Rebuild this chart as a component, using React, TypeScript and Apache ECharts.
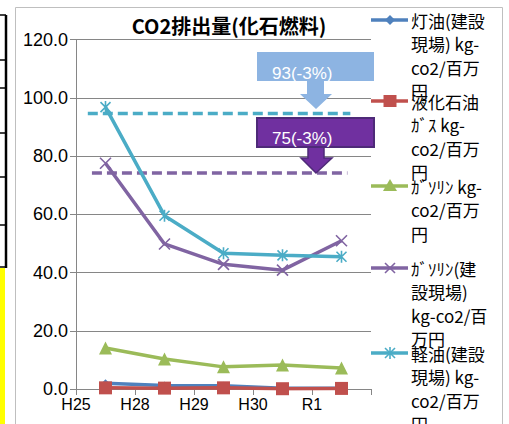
import React, { useEffect, useRef } from "react";
import * as echarts from "echarts";

// ---- data ----
const xLabels = ["H25", "H28", "H29", "H30", "R1"];
const kerosene = [2.0, 1.2, 1.1, 0.3, 0.3]; // 灯油(建設現場)
const lpg = [0.4, 0.3, 0.4, 0.1, 0.2]; // 液化石油ガス
const gasoline = [14.1, 10.3, 7.6, 8.2, 7.2]; // ガソリン
const gasolineSite = [77.5, 49.8, 42.8, 40.8, 50.9]; // ガソリン(建設現場)
const diesel = [96.8, 59.5, 46.6, 45.9, 45.4]; // 軽油(建設現場)
const dieselTarget = 94.6;
const gasolineSiteTarget = 74.2;
const dieselTargetSpan = [0.2, 4.65];
const gasolineSiteTargetSpan = [0.27, 4.6];
const yMin = 0;
const yMax = 120;
const yStep = 20;

const names = [
  "灯油(建設現場) kg-co2/百万円",
  "液化石油ｶﾞｽ kg-co2/百万円",
  "ｶﾞｿﾘﾝ kg-co2/百万円",
  "ｶﾞｿﾘﾝ(建設現場) kg-co2/百万円",
  "軽油(建設現場) kg-co2/百万円",
];
const legendLines = [
  ["灯油(建設", "現場) kg-", "co2/百万", "円"],
  ["液化石油", "ｶﾞｽ kg-", "co2/百万", "円"],
  ["ｶﾞｿﾘﾝ kg-", "co2/百万", "円"],
  ["ｶﾞｿﾘﾝ(建", "設現場)", "kg-co2/百", "万円"],
  ["軽油(建設", "現場) kg-", "co2/百万", "円"],
];
const callout1 = "93(-3%)";
const callout2 = "75(-3%)";
const title = "CO2排出量(化石燃料)";

const COLORS = ["#4F81BD", "#C0504D", "#9BBB59", "#8064A2", "#4BACC6"];
const X_PATH = "path://M0,0L10,10M10,0L0,10";
const STAR_PATH = "path://M0,0L10,10M10,0L0,10M5,-1L5,11";

export default function App() {
  const ref = useRef<HTMLDivElement>(null);
  useEffect(() => {
    if (!ref.current) return;
    const chart = echarts.init(ref.current, undefined, { renderer: "svg" });
    const all = [kerosene, lpg, gasoline, gasolineSite, diesel];
    const symbols = ["diamond", "rect", "triangle", X_PATH, STAR_PATH];
    const sizes = [8, 13, 13, 11, 12];
    const series: any[] = all.map((vals, k) => ({
      name: names[k],
      type: "line",
      data: vals.map((v, i) => [i + 0.5, v]),
      symbol: symbols[k],
      symbolSize: sizes[k],
      symbolKeepAspect: true,
      lineStyle: { color: COLORS[k], width: 3.5 },
      itemStyle: {
        color: k >= 3 ? "none" : COLORS[k],
        borderColor: COLORS[k],
        borderWidth: k >= 3 ? 1.6 : 0,
      },
      z: 2 + k,
    }));
    series.push({
      name: "target-diesel",
      type: "line",
      data: dieselTargetSpan.map((x) => [x, dieselTarget]),
      symbol: "none",
      lineStyle: { color: "#4BACC6", width: 3.5, type: [10, 5] },
      z: 1,
    });
    series.push({
      name: "target-gasoline",
      type: "line",
      data: gasolineSiteTargetSpan.map((x) => [x, gasolineSiteTarget]),
      symbol: "none",
      lineStyle: { color: "#8064A2", width: 3.5, type: [10, 5] },
      z: 1,
    });

    const legendYs = [20, 101, 186, 268, 353];
    const lh = 23.5;
    const legendEls: any[] = [];
    legendYs.forEach((y, k) => {
      const c = COLORS[k];
      legendEls.push({
        type: "line",
        shape: { x1: 371, y1: y, x2: 408, y2: y },
        style: { stroke: c, lineWidth: 3.5 },
        z: 20,
      });
      const mx = 390;
      if (k === 0)
        legendEls.push({
          type: "polygon",
          shape: { points: [[mx, y - 5], [mx + 5, y], [mx, y + 5], [mx - 5, y]] },
          style: { fill: c },
          z: 21,
        });
      if (k === 1)
        legendEls.push({
          type: "rect",
          shape: { x: mx - 6.5, y: y - 6, width: 13, height: 12 },
          style: { fill: c },
          z: 21,
        });
      if (k === 2)
        legendEls.push({
          type: "polygon",
          shape: { points: [[mx, y - 7], [mx + 7, y + 5], [mx - 7, y + 5]] },
          style: { fill: c },
          z: 21,
        });
      if (k === 3 || k === 4) {
        legendEls.push({
          type: "line",
          shape: { x1: mx - 5, y1: y - 5, x2: mx + 5, y2: y + 5 },
          style: { stroke: c, lineWidth: 1.6 },
          z: 21,
        });
        legendEls.push({
          type: "line",
          shape: { x1: mx - 5, y1: y + 5, x2: mx + 5, y2: y - 5 },
          style: { stroke: c, lineWidth: 1.6 },
          z: 21,
        });
        if (k === 4)
          legendEls.push({
            type: "line",
            shape: { x1: mx, y1: y - 6, x2: mx, y2: y + 6 },
            style: { stroke: c, lineWidth: 1.6 },
            z: 21,
          });
      }
      legendEls.push({
        type: "text",
        x: 411,
        y: y - lh / 2,
        style: {
          text: legendLines[k].join("\n"),
          font: '17px "Noto Sans CJK JP"',
          fill: "#000",
          lineHeight: lh,
          verticalAlign: "top",
          align: "left",
        },
        z: 20,
      });
    });

    const leftLines = [15, 60, 88, 133, 177, 225, 267].map((y) => ({
      type: "line",
      shape: { x1: 0, y1: y, x2: 6, y2: y },
      style: { stroke: "#000", lineWidth: 1.5 },
      z: 30,
    }));

    chart.setOption({
      animation: false,
      backgroundColor: "#fff",
      grid: { left: 76, top: 39.5, right: 138, bottom: 35, containLabel: false },
      xAxis: {
        type: "value",
        min: 0,
        max: 5,
        interval: 1,
        axisLine: { show: true, lineStyle: { color: "#868686", width: 1 } },
        axisTick: { show: true, length: 6, lineStyle: { color: "#868686" } },
        splitLine: { show: false },
        axisLabel: {
          formatter: (v: number) => xLabels[v] ?? "",
          color: "#000",
          fontSize: 16,
          fontFamily: '"Liberation Sans", Arial, sans-serif',
          margin: 7,
          showMaxLabel: true,
        },
      },
      yAxis: {
        type: "value",
        min: yMin,
        max: yMax,
        interval: yStep,
        axisLine: { show: true, lineStyle: { color: "#868686", width: 1 } },
        axisTick: { show: true, length: 6, lineStyle: { color: "#868686" } },
        splitLine: { show: true, lineStyle: { color: "#868686", width: 1 } },
        axisLabel: {
          formatter: (v: number) => v.toFixed(1),
          color: "#000",
          fontSize: 18,
          fontFamily: '"Liberation Sans", Arial, sans-serif',
          margin: 8,
        },
      },
      series,
      graphic: [
        {
          type: "rect",
          shape: { x: 15.5, y: 7.5, width: 487, height: 440 },
          style: { fill: "#fff", stroke: "#BFBFBF", lineWidth: 1 },
          z: -10,
        },
        {
          type: "rect",
          shape: { x: 0, y: 268, width: 5, height: 160 },
          style: { fill: "#FFFF00" },
          z: 30,
        },
        {
          type: "line",
          shape: { x1: 6, y1: 15, x2: 6, y2: 268 },
          style: { stroke: "#000", lineWidth: 2.5 },
          z: 30,
        },
        ...leftLines,
        {
          type: "text",
          x: 229,
          y: 25,
          style: {
            text: title,
            font: 'bold 20px "Noto Sans CJK JP"',
            fill: "#000",
            align: "center",
            verticalAlign: "middle",
          },
          z: 20,
        },
        // callout 1
        {
          type: "rect",
          shape: { x: 257, y: 52, width: 117, height: 29 },
          style: { fill: "#8DB4E2" },
          z: 40,
        },
        {
          type: "polygon",
          shape: {
            points: [[307, 80], [324, 80], [324, 94], [332, 94], [316, 109], [300, 94], [307, 94]],
          },
          style: { fill: "#8DB4E2" },
          z: 40,
        },
        {
          type: "text",
          x: 272,
          y: 73,
          style: {
            text: callout1,
            font: '17px "Liberation Sans", Arial, sans-serif',
            fill: "#fff",
            align: "left",
            verticalAlign: "middle",
          },
          z: 41,
        },
        // callout 2
        {
          type: "polygon",
          shape: {
            points: [[308, 146], [324, 146], [324, 158], [332, 158], [316, 173], [301, 158], [308, 158]],
          },
          style: { fill: "#7030A0", stroke: "#4E2A78", lineWidth: 1.5 },
          z: 40,
        },
        {
          type: "rect",
          shape: { x: 257, y: 118, width: 117, height: 29 },
          style: { fill: "#7030A0", stroke: "#4E2A78", lineWidth: 2 },
          z: 40,
        },
        {
          type: "text",
          x: 272,
          y: 138,
          style: {
            text: callout2,
            font: '17px "Liberation Sans", Arial, sans-serif',
            fill: "#fff",
            align: "left",
            verticalAlign: "middle",
          },
          z: 41,
        },
        ...legendEls,
      ],
    });
    return () => chart.dispose();
  }, []);
  return (
    <div
      ref={ref}
      style={{ position: "absolute", left: 0, top: 0, width: 509, height: 424 }}
    />
  );
}
